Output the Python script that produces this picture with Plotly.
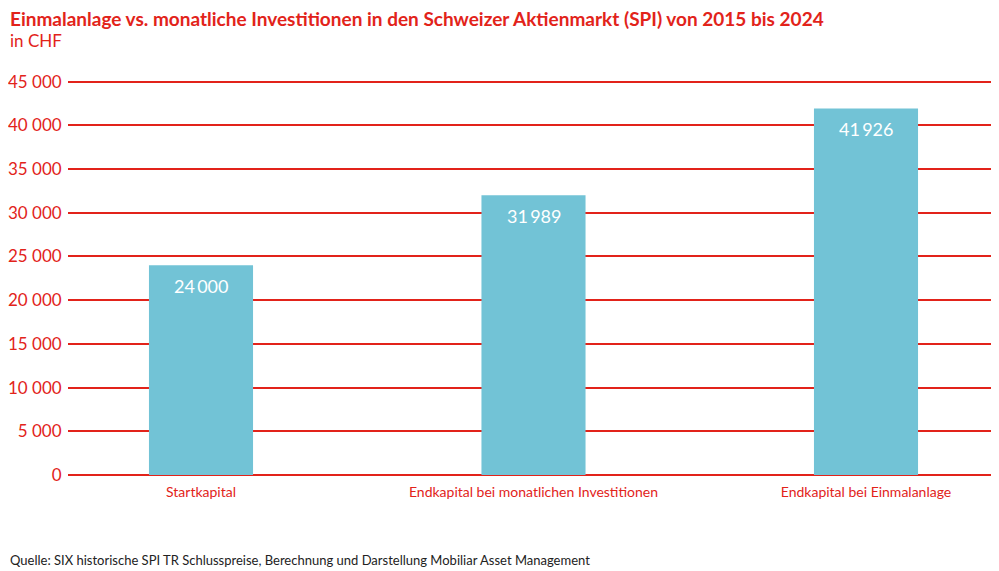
import plotly.graph_objects as go

RED = '#e2231a'
BAR = '#72c3d6'
FONT = 'Lato'

categories = ['Startkapital', 'Endkapital bei monatlichen Investitionen', 'Endkapital bei Einmalanlage']
values = [24000, 31989, 41926]
y_ticks = [0, 5000, 10000, 15000, 20000, 25000, 30000, 35000, 40000, 45000]

# Die Seite hat 8px Rand, deshalb etwas kleiner als das Fenster
W, H = 991, 563
L, T, B = 60, 71, 96
PW, PH = W - L, H - T - B


def py(fy):
    # Pixel-y in der Figur -> Paper-Koordinate
    return (H - B - fy) / PH


fig = go.Figure()

fig.add_trace(go.Bar(
    x=categories,
    y=values,
    marker=dict(color=BAR, line=dict(width=0)),
    width=0.313,
    hoverinfo='x+y',
))

# Werte in den Balken, knapp unter der Oberkante
for cat, val in zip(categories, values):
    fig.add_annotation(
        x=cat, y=val, yshift=-21,
        text=f"{val:,}".replace(',', '\u2009'),
        showarrow=False,
        font=dict(family=FONT, size=18, color='white'),
    )

fig.update_layout(
    width=W, height=H,
    margin=dict(l=L, r=0, t=T, b=B),
    plot_bgcolor='white',
    paper_bgcolor='white',
    showlegend=False,
    separators='. ',
    font=dict(family=FONT, color=RED),
)

fig.update_xaxes(
    range=[-0.4, 2.4],
    automargin=False,
    showgrid=False,
    showline=False,
    ticks='outside', ticklen=4, tickcolor='white',
    tickfont=dict(family=FONT, size=14, color=RED),
)

fig.update_yaxes(
    range=[0, 45300],
    automargin=False,
    tickvals=y_ticks,
    tickformat=',d',
    showgrid=True, gridcolor=RED, gridwidth=2,
    zeroline=True, zerolinecolor=RED, zerolinewidth=2,
    showline=False,
    ticks='outside', ticklen=2, tickcolor='white',
    tickfont=dict(family=FONT, size=17, color=RED),
)

# Titel, Einheit und Quelle
fig.add_annotation(
    xref='paper', yref='paper', x=-L / PW, y=py(10),
    xanchor='left', yanchor='middle', showarrow=False,
    text='<b>Einmalanlage vs. monatliche Investitionen in den Schweizer Aktienmarkt (SPI) von 2015 bis 2024</b>',
    font=dict(family=FONT, size=19, color=RED),
)
fig.add_annotation(
    xref='paper', yref='paper', x=-L / PW, y=py(32),
    xanchor='left', yanchor='middle', showarrow=False,
    text='in CHF',
    font=dict(family=FONT, size=17, color=RED),
)
fig.add_annotation(
    xref='paper', yref='paper', x=-L / PW, y=py(552),
    xanchor='left', yanchor='middle', showarrow=False,
    text='Quelle: SIX historische SPI TR Schlusspreise, Berechnung und Darstellung Mobiliar Asset Management',
    font=dict(family=FONT, size=13, color='#222222'),
)

fig.write_html("out.html")
